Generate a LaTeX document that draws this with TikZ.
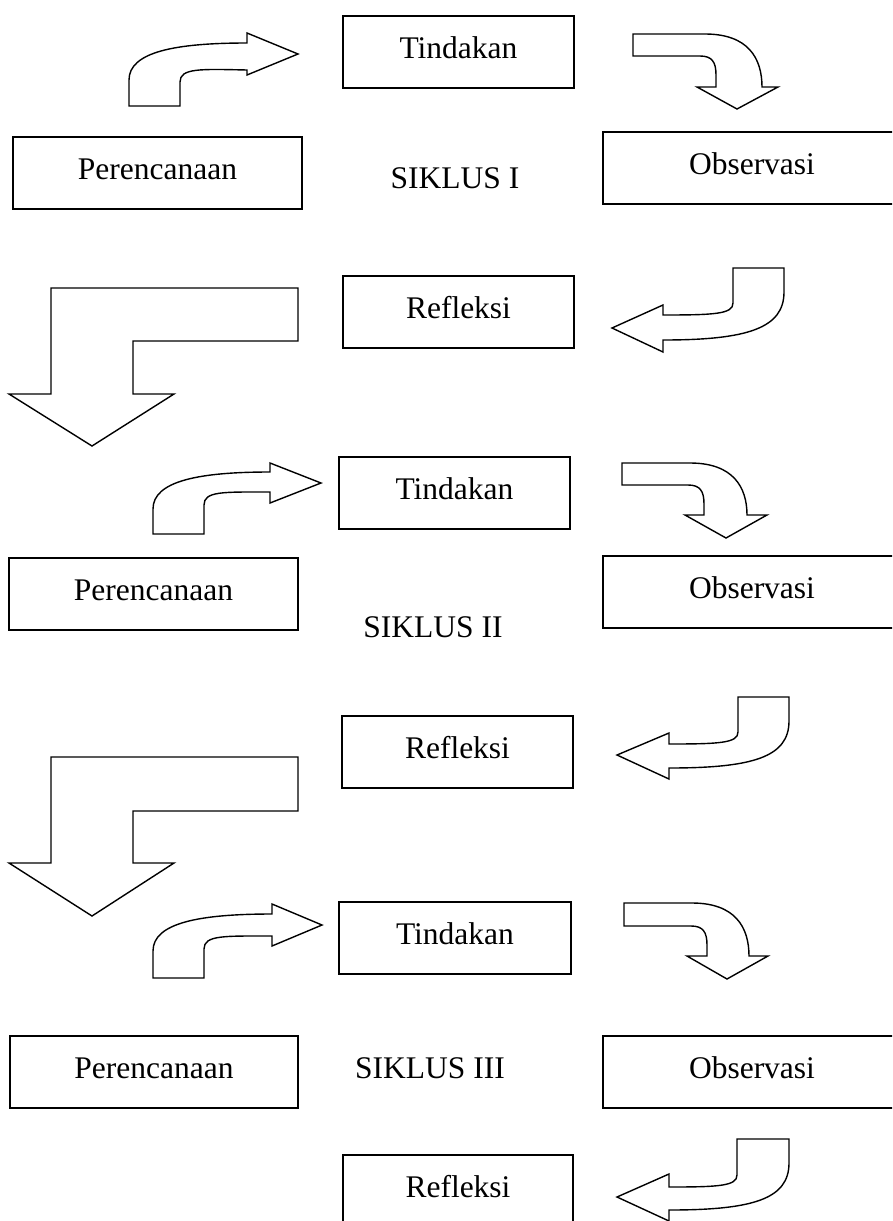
\documentclass[tikz,border=0pt]{standalone}
\usepackage{fontspec}
\setmainfont{Liberation Serif}
\begin{document}
\begin{tikzpicture}[x=1pt,y=-1pt,
  lw/.style={line width=1.4pt},
  stagebox/.style={draw, lw, rectangle, minimum height=72pt, inner sep=0pt,
    text height=22pt, text depth=10pt, font=\fontsize{31.5}{38}\selectfont},
  tbox/.style={stagebox, minimum width=231pt},
  pbox/.style={stagebox, minimum width=289pt},
  obox/.style={stagebox, minimum width=298pt},
  cyclelabel/.style={anchor=base, inner sep=0pt, font=\fontsize{31.5}{38}\selectfont},
  blockarrow/.style={draw, lw, fill=white, line join=miter}]
\useasboundingbox (0,0) rectangle (892,1221);
\clip (0,0) rectangle (892,1221);

% ---------------- SIKLUS I ----------------
\node[tbox] (t1) at (458.5,52) {Tindakan};
\node[pbox] (p1) at (157.5,173) {Perencanaan};
\node[obox] (o1) at (752,168) {Observasi};
\node[tbox] (r1) at (458.5,312) {Refleksi};
\node[cyclelabel] (s1) at (455,188) {SIKLUS I};

\draw[blockarrow] (129,106) -- (129,80) .. controls (129,52) and (175,43) .. (247,43)
  -- (247,33) -- (298,54) -- (247,75) -- (247,70)
  .. controls (200,69) and (180,68) .. (180,82) -- (180,106) -- cycle;
\draw[blockarrow] (633,34) -- (705,34) .. controls (748,34) and (762,58) .. (762,87)
  -- (778,87) -- (737,109) -- (697,87) -- (716,87) -- (716,75)
  .. controls (716,62) and (712,56) .. (700,56) -- (633,56) -- cycle;
\draw[blockarrow] (733,268) -- (784,268) -- (784,292) .. controls (784,328) and (748,340) .. (663,340)
  -- (663,352) -- (612,328) -- (663,305) -- (663,315)
  .. controls (715,315) and (733,314) .. (733,303) -- cycle;
\draw[blockarrow] (298,288) -- (51,288) -- (51,394) -- (9,394) -- (92,446) -- (174,394)
  -- (133,394) -- (133,341) -- (298,341) -- cycle;

% ---------------- SIKLUS II ----------------
\node[tbox] (t2) at (454.5,493) {Tindakan};
\node[pbox] (p2) at (153.5,594) {Perencanaan};
\node[obox] (o2) at (752,592) {Observasi};
\node[tbox] (r2) at (457.5,752) {Refleksi};
\node[cyclelabel] (s2) at (433,637) {SIKLUS II};

\draw[blockarrow] (153,534) -- (153,509) .. controls (153,481) and (199,472) .. (270,472)
  -- (270,463) -- (321,483) -- (270,503) -- (270,492)
  .. controls (223,492) and (204,491) .. (204,505) -- (204,534) -- cycle;
\draw[blockarrow] (622,463) -- (690,463) .. controls (733,463) and (747,487) .. (747,515)
  -- (767,515) -- (726,538) -- (685,515) -- (704,515) -- (704,504)
  .. controls (704,491) and (700,485) .. (688,485) -- (622,485) -- cycle;
\draw[blockarrow] (738,697) -- (789,697) -- (789,721) .. controls (789,757) and (753,768) .. (669,768)
  -- (669,779) -- (617,755) -- (669,733) -- (669,744)
  .. controls (720,744) and (738,743) .. (738,732) -- cycle;
\draw[blockarrow] (298,757) -- (51,757) -- (51,863) -- (9,863) -- (92,916) -- (174,863)
  -- (133,863) -- (133,811) -- (298,811) -- cycle;

% ---------------- SIKLUS III ----------------
\node[tbox, minimum width=232pt] (t3) at (455,938) {Tindakan};
\node[pbox, minimum width=288pt] (p3) at (154,1072) {Perencanaan};
\node[obox] (o3) at (752,1072) {Observasi};
\node[tbox, minimum width=230pt] (r3) at (458,1191) {Refleksi};
\node[cyclelabel] (s3) at (430,1078) {SIKLUS III};

\draw[blockarrow] (153,978) -- (153,951) .. controls (153,923) and (199,914) .. (272,914)
  -- (272,904) -- (322,925) -- (272,946) -- (272,936)
  .. controls (224,936) and (204,935) .. (204,949) -- (204,978) -- cycle;
\draw[blockarrow] (624,903) -- (692,903) .. controls (735,903) and (749,927) .. (749,956)
  -- (768,956) -- (727,979) -- (687,956) -- (707,956) -- (707,945)
  .. controls (707,932) and (703,926) .. (691,926) -- (624,926) -- cycle;
\draw[blockarrow] (737,1139) -- (789,1139) -- (789,1163) .. controls (789,1199) and (753,1210) .. (669,1210)
  -- (669,1221) -- (617,1197) -- (669,1174) -- (669,1187)
  .. controls (719,1187) and (737,1186) .. (737,1175) -- cycle;
\end{tikzpicture}
\end{document}
